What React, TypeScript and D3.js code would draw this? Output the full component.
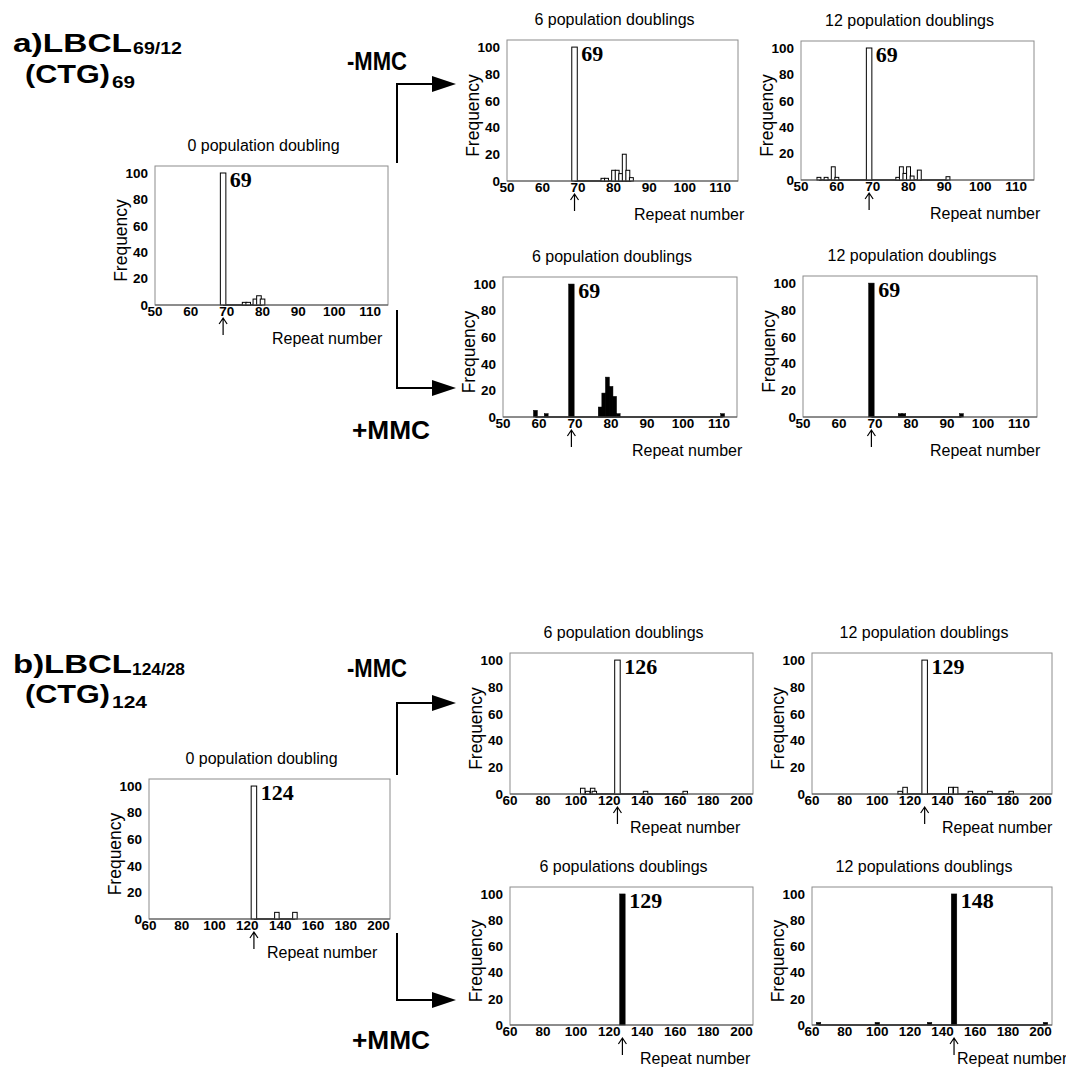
import * as d3 from "d3";

// repeat number -> frequency
const a0Bars: [number, number][] = [[69, 100], [75, 2], [76, 2], [78, 4.5], [79, 7], [80, 4.5]];
const a6MinusBars: [number, number][] = [[69, 100], [77, 2], [78, 2], [80, 8], [81, 8], [82, 5.5], [83, 20], [84, 8], [85, 2.5]];
const a12MinusBars: [number, number][] = [[55, 2], [57, 2], [59, 10], [60, 2], [69, 100], [77, 2], [78, 10], [79, 5], [80, 10], [81, 3], [83, 7.5], [91, 2.5]];
const a6PlusBars: [number, number][] = [[59, 5], [62, 2.5], [69, 100], [77, 7.5], [78, 18], [79, 30], [80, 23], [81, 15.5], [82, 2.5], [111, 2.5]];
const a12PlusBars: [number, number][] = [[69, 100], [77, 2.5], [78, 2.5], [94, 2.5]];

const b0Bars: [number, number][] = [[124, 100], [138, 5], [149, 5]];
const b6MinusBars: [number, number][] = [[104, 4.3], [107, 2], [110, 4.3], [111, 2], [125, 100], [142, 2], [166, 2]];
const b12MinusBars: [number, number][] = [[114, 2], [117, 5], [129, 100], [145, 5], [148, 5], [157, 2], [169, 2], [182, 2]];
const b6PlusBars: [number, number][] = [[128, 100]];
const b12PlusBars: [number, number][] = [[64, 2], [100, 2], [132, 2], [147, 100], [203, 2]];

const aTicksX = [50, 60, 70, 80, 90, 100, 110];
const bTicksX = [60, 80, 100, 120, 140, 160, 180, 200];
const ticksY = [0, 20, 40, 60, 80, 100];

type Panel = {
  title: string;
  left: number; right: number; top: number; bottom: number;
  domain: [number, number];
  ticks: number[];
  bars: [number, number][];
  filled: boolean;
  peak: string;
  repeatX: number;
  small: number;
};

const panels: Panel[] = [
  { title: "0 population doubling", left: 155, right: 388, top: 166, bottom: 305, domain: [50, 115], ticks: aTicksX, bars: a0Bars, filled: false, peak: "69", repeatX: 272, small: 4.6 },
  { title: "6 population doublings", left: 507, right: 738, top: 40, bottom: 181, domain: [50, 115], ticks: aTicksX, bars: a6MinusBars, filled: false, peak: "69", repeatX: 634, small: 3.9 },
  { title: "12 population doublings", left: 801, right: 1034, top: 41, bottom: 180, domain: [50, 115], ticks: aTicksX, bars: a12MinusBars, filled: false, peak: "69", repeatX: 930, small: 3.9 },
  { title: "6 population doublings", left: 503, right: 737, top: 277, bottom: 417, domain: [50, 115], ticks: aTicksX, bars: a6PlusBars, filled: true, peak: "69", repeatX: 632, small: 3.9 },
  { title: "12 population doublings", left: 803, right: 1037, top: 276, bottom: 417, domain: [50, 115], ticks: aTicksX, bars: a12PlusBars, filled: true, peak: "69", repeatX: 930, small: 3.9 },
  { title: "0 population doubling", left: 149, right: 390, top: 779, bottom: 919, domain: [60, 207], ticks: bTicksX, bars: b0Bars, filled: false, peak: "124", repeatX: 267, small: 4.5 },
  { title: "6 population doublings", left: 510, right: 753, top: 653, bottom: 794, domain: [60, 207], ticks: bTicksX, bars: b6MinusBars, filled: false, peak: "126", repeatX: 630, small: 4.5 },
  { title: "12 population doublings", left: 812, right: 1052, top: 653, bottom: 794, domain: [60, 207], ticks: bTicksX, bars: b12MinusBars, filled: false, peak: "129", repeatX: 942, small: 4.5 },
  { title: "6 populations doublings", left: 510, right: 753, top: 887, bottom: 1025, domain: [60, 207], ticks: bTicksX, bars: b6PlusBars, filled: true, peak: "129", repeatX: 640, small: 4.5 },
  { title: "12 populations doublings", left: 812, right: 1052, top: 887, bottom: 1025, domain: [60, 207], ticks: bTicksX, bars: b12PlusBars, filled: true, peak: "148", repeatX: 957, small: 4.5 },
];

const sans = "'Liberation Sans', Arial, sans-serif";
const narrow = "'Liberation Sans Narrow', 'Arial Narrow', 'Liberation Sans', sans-serif";
const serif = "'Liberation Serif', 'Times New Roman', serif";

function Histogram({ p }: { p: Panel }) {
  const x = d3.scaleLinear().domain(p.domain).range([p.left, p.right]);
  const y = d3.scaleLinear().domain([0, 105.3]).range([p.bottom, p.top]);
  const reps = p.bars.map(d => d[0]);
  const peakBar = p.bars.find(d => d[1] >= 99)!;
  const w = (v: number) => (v >= 99 ? 5.5 : p.small);
  const px = x(peakBar[0]);
  const midY = (p.top + p.bottom) / 2;
  return (
    <g>
      <text x={(p.left + p.right) / 2 - 8} y={p.top - 15} textAnchor="middle" fontFamily={sans} fontSize={16}>{p.title}</text>
      <rect x={p.left} y={p.top} width={p.right - p.left} height={p.bottom - p.top} fill="none" stroke="#8c8c8c" strokeWidth={1} />
      <line x1={x(d3.min(reps)!)} x2={x(d3.max(reps)!)} y1={y(0)} y2={y(0)} stroke="#000" strokeWidth={1.6} />
      {p.bars.map(([r, v]) => (
        <rect key={r} x={x(r) - w(v) / 2} y={y(v)} width={w(v)} height={y(0) - y(v)}
          fill={p.filled ? "#000" : "#fff"} stroke="#000" strokeWidth={p.filled ? 0.5 : 1} />
      ))}
      <line x1={p.left} x2={p.right} y1={p.bottom} y2={p.bottom} stroke="#555" strokeWidth={1} />
      {ticksY.map(t => (
        <text key={t} x={p.left - 7} y={y(t)} dy="0.36em" textAnchor="end" fontFamily={narrow} fontWeight="bold" fontSize={13.5}>{t}</text>
      ))}
      {p.ticks.map(t => (
        <text key={t} x={x(t)} y={p.bottom + 11} textAnchor="middle" fontFamily={narrow} fontWeight="bold" fontSize={13.5}>{t}</text>
      ))}
      <text transform={`translate(${p.left - 28},${midY + 5}) rotate(-90)`} textAnchor="middle" fontFamily={sans} fontSize={17.5}>Frequency</text>
      <text x={px + w(100) / 2 + 4} y={p.top + 21} fontFamily={serif} fontWeight="bold" fontSize={22}>{p.peak}</text>
      <path d={`M${px},${p.bottom + 30}V${p.bottom + 13}M${px - 4},${p.bottom + 19}L${px},${p.bottom + 13}L${px + 4},${p.bottom + 19}`}
        fill="none" stroke="#000" strokeWidth={1.2} />
      <text x={p.repeatX} y={p.bottom + 39} fontFamily={sans} fontSize={16}>Repeat number</text>
    </g>
  );
}

function Connector({ y1, y2 }: { y1: number; y2: number }) {
  const line = d3.line()([[397, y1], [397, y2], [434, y2]]);
  return (
    <g>
      <path d={line!} fill="none" stroke="#000" strokeWidth={2} />
      <path d={`M432,${y2 - 8}L456,${y2}L432,${y2 + 8}Z`} fill="#000" />
    </g>
  );
}

export default function App() {
  return (
    <svg width={1066} height={1070} style={{ position: "absolute", left: 0, top: 0, background: "#fff" }}>
      <g fontFamily={sans} fontWeight="bold">
        <text x={13} y={52} fontSize={26} textLength={119} lengthAdjust="spacingAndGlyphs">a)LBCL</text>
        <text x={133} y={54} fontSize={17} textLength={49} lengthAdjust="spacingAndGlyphs">69/12</text>
        <text x={25} y={83} fontSize={26} textLength={85} lengthAdjust="spacingAndGlyphs">(CTG)</text>
        <text x={112} y={88} fontSize={17} textLength={23} lengthAdjust="spacingAndGlyphs">69</text>
        <text x={347} y={70} fontSize={25} textLength={60} lengthAdjust="spacingAndGlyphs">-MMC</text>
        <text x={352} y={439} fontSize={25} textLength={78} lengthAdjust="spacingAndGlyphs">+MMC</text>

        <text x={13} y={673} fontSize={26} textLength={119} lengthAdjust="spacingAndGlyphs">b)LBCL</text>
        <text x={132} y={675} fontSize={17} textLength={53} lengthAdjust="spacingAndGlyphs">124/28</text>
        <text x={25} y={703} fontSize={26} textLength={85} lengthAdjust="spacingAndGlyphs">(CTG)</text>
        <text x={112} y={708} fontSize={17} textLength={35} lengthAdjust="spacingAndGlyphs">124</text>
        <text x={347} y={677} fontSize={25} textLength={60} lengthAdjust="spacingAndGlyphs">-MMC</text>
        <text x={352} y={1049} fontSize={25} textLength={78} lengthAdjust="spacingAndGlyphs">+MMC</text>
      </g>
      <Connector y1={163} y2={84} />
      <Connector y1={310} y2={388} />
      <Connector y1={775} y2={703} />
      <Connector y1={933} y2={1000} />
      {panels.map((p, i) => <Histogram key={i} p={p} />)}
    </svg>
  );
}
